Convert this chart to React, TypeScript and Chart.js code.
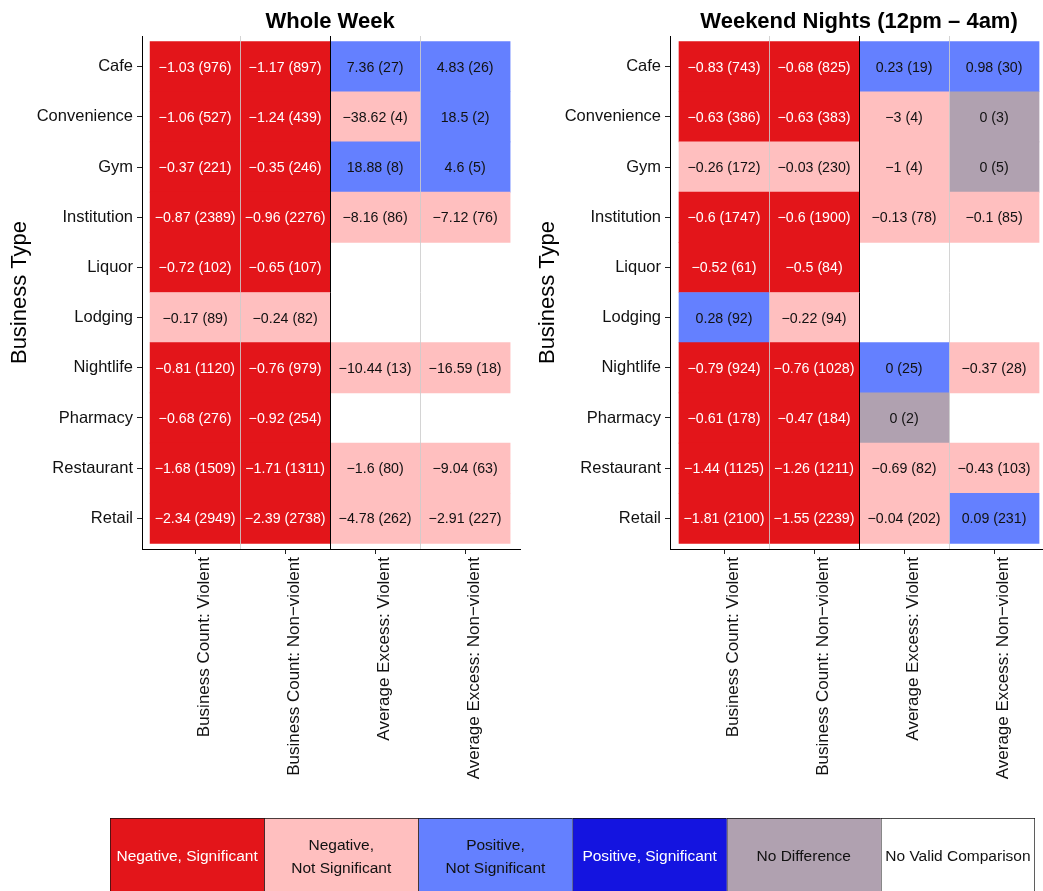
import React, { useEffect, useRef } from "react";
import { Chart, registerables } from "chart.js";

Chart.register(...registerables);

const FONT = "'Liberation Sans', Arial, Helvetica, sans-serif";
Chart.defaults.font.family = FONT;

// ---------- categories / labels ----------
const businessTypes = [
  "Cafe",
  "Convenience",
  "Gym",
  "Institution",
  "Liquor",
  "Lodging",
  "Nightlife",
  "Pharmacy",
  "Restaurant",
  "Retail",
];
const measureLabels = [
  "Business Count: Violent",
  "Business Count: Non\u2212violent",
  "Average Excess: Violent",
  "Average Excess: Non\u2212violent",
];
const panelTitles = ["Whole Week", "Weekend Nights (12pm \u2013 4am)"];
const yAxisTitle = "Business Type";

// category codes: 0 neg sig, 1 neg ns, 2 pos ns, 3 pos sig, 4 no diff, 5 no valid comparison
const legendLabels = [
  ["Negative, Significant"],
  ["Negative,", "Not Significant"],
  ["Positive,", "Not Significant"],
  ["Positive, Significant"],
  ["No Difference"],
  ["No Valid Comparison"],
];
const categoryColors = ["#E3151A", "#FFBFBF", "#6480FF", "#1414E0", "#B0A1B0", "#FFFFFF"];
const categoryTextColors = ["#FFFFFF", "#111111", "#111111", "#FFFFFF", "#111111", "#111111"];

// ---------- Whole week ----------
const wwCountViolentValues = [-1.03, -1.06, -0.37, -0.87, -0.72, -0.17, -0.81, -0.68, -1.68, -2.34];
const wwCountViolentN = [976, 527, 221, 2389, 102, 89, 1120, 276, 1509, 2949];
const wwCountViolentCat = [0, 0, 0, 0, 0, 1, 0, 0, 0, 0];

const wwCountNonViolentValues = [-1.17, -1.24, -0.35, -0.96, -0.65, -0.24, -0.76, -0.92, -1.71, -2.39];
const wwCountNonViolentN = [897, 439, 246, 2276, 107, 82, 979, 254, 1311, 2738];
const wwCountNonViolentCat = [0, 0, 0, 0, 0, 1, 0, 0, 0, 0];

const wwExcessViolentValues = [7.36, -38.62, 18.88, -8.16, null, null, -10.44, null, -1.6, -4.78];
const wwExcessViolentN = [27, 4, 8, 86, null, null, 13, null, 80, 262];
const wwExcessViolentCat = [2, 1, 2, 1, null, null, 1, null, 1, 1];

const wwExcessNonViolentValues = [4.83, 18.5, 4.6, -7.12, null, null, -16.59, null, -9.04, -2.91];
const wwExcessNonViolentN = [26, 2, 5, 76, null, null, 18, null, 63, 227];
const wwExcessNonViolentCat = [2, 2, 2, 1, null, null, 1, null, 1, 1];

// ---------- Weekend nights ----------
const wnCountViolentValues = [-0.83, -0.63, -0.26, -0.6, -0.52, 0.28, -0.79, -0.61, -1.44, -1.81];
const wnCountViolentN = [743, 386, 172, 1747, 61, 92, 924, 178, 1125, 2100];
const wnCountViolentCat = [0, 0, 1, 0, 0, 2, 0, 0, 0, 0];

const wnCountNonViolentValues = [-0.68, -0.63, -0.03, -0.6, -0.5, -0.22, -0.76, -0.47, -1.26, -1.55];
const wnCountNonViolentN = [825, 383, 230, 1900, 84, 94, 1028, 184, 1211, 2239];
const wnCountNonViolentCat = [0, 0, 1, 0, 0, 1, 0, 0, 0, 0];

const wnExcessViolentValues = [0.23, -3, -1, -0.13, null, null, 0, 0, -0.69, -0.04];
const wnExcessViolentN = [19, 4, 4, 78, null, null, 25, 2, 82, 202];
const wnExcessViolentCat = [2, 1, 1, 1, null, null, 2, 4, 1, 1];

const wnExcessNonViolentValues = [0.98, 0, 0, -0.1, null, null, -0.37, null, -0.43, 0.09];
const wnExcessNonViolentN = [30, 3, 5, 85, null, null, 28, null, 103, 231];
const wnExcessNonViolentCat = [2, 4, 4, 1, null, null, 1, null, 1, 2];

type Column = { values: (number | null)[]; counts: (number | null)[]; cats: (number | null)[] };

const wholeWeek: Column[] = [
  { values: wwCountViolentValues, counts: wwCountViolentN, cats: wwCountViolentCat },
  { values: wwCountNonViolentValues, counts: wwCountNonViolentN, cats: wwCountNonViolentCat },
  { values: wwExcessViolentValues, counts: wwExcessViolentN, cats: wwExcessViolentCat },
  { values: wwExcessNonViolentValues, counts: wwExcessNonViolentN, cats: wwExcessNonViolentCat },
];
const weekendNights: Column[] = [
  { values: wnCountViolentValues, counts: wnCountViolentN, cats: wnCountViolentCat },
  { values: wnCountNonViolentValues, counts: wnCountNonViolentN, cats: wnCountNonViolentCat },
  { values: wnExcessViolentValues, counts: wnExcessViolentN, cats: wnExcessViolentCat },
  { values: wnExcessNonViolentValues, counts: wnExcessNonViolentN, cats: wnExcessNonViolentCat },
];

function fmt(v: number, n: number) {
  const s = v < 0 ? "\u2212" + String(-v) : String(v);
  return `${s} (${n})`;
}

type PanelProps = {
  columns: Column[];
  title: string;
  left: number;
  width: number;
  height: number;
  xMin: number;
  xMax: number;
  padRight: number;
};

function HeatPanel({ columns, title, left, width, height, xMin, xMax, padRight }: PanelProps) {
  const ref = useRef<HTMLCanvasElement>(null);
  useEffect(() => {
    if (!ref.current) return;
    const datasets = columns.map((col, j) => ({
      label: measureLabels[j],
      data: businessTypes
        .map((_, i) => i)
        .filter((i) => col.cats[i] != null)
        .map((i) => ({ x: [j, j + 1], y: i })),
      backgroundColor: (ctx: any) => {
        const raw = ctx.raw;
        if (!raw) return "rgba(0,0,0,0)";
        return categoryColors[col.cats[raw.y] as number];
      },
      borderWidth: 0,
      grouped: false,
      barPercentage: 1,
      categoryPercentage: 1,
    }));

    const overlay = {
      id: "overlay",
      afterDatasetsDraw(chart: any) {
        const { ctx, chartArea } = chart;
        const xs = chart.scales.x;
        const ys = chart.scales.y;
        ctx.save();
        // separators
        [1, 3].forEach((v) => {
          const px = Math.round(xs.getPixelForValue(v)) + 0.5;
          ctx.strokeStyle = "rgba(205,205,205,0.85)";
          ctx.lineWidth = 1;
          ctx.beginPath();
          ctx.moveTo(px, chartArea.top);
          ctx.lineTo(px, chartArea.bottom);
          ctx.stroke();
        });
        {
          const px = Math.round(xs.getPixelForValue(2)) + 0.5;
          ctx.strokeStyle = "#000000";
          ctx.lineWidth = 1;
          ctx.beginPath();
          ctx.moveTo(px, chartArea.top);
          ctx.lineTo(px, chartArea.bottom);
          ctx.stroke();
        }
        // cell labels
        ctx.font = `14.2px ${FONT}`;
        ctx.textAlign = "center";
        ctx.textBaseline = "middle";
        columns.forEach((col, j) => {
          businessTypes.forEach((_, i) => {
            const c = col.cats[i];
            if (c == null) return;
            ctx.fillStyle = categoryTextColors[c];
            ctx.fillText(
              fmt(col.values[i] as number, col.counts[i] as number),
              xs.getPixelForValue(j + 0.5),
              ys.getPixelForValue(i) + 1
            );
          });
        });
        // title
        ctx.fillStyle = "#000000";
        ctx.font = `bold 22px ${FONT}`;
        ctx.textAlign = "center";
        ctx.textBaseline = "alphabetic";
        ctx.fillText(title, xs.getPixelForValue(2), 28);
        ctx.restore();
      },
    };

    const chart = new Chart(ref.current, {
      type: "bar",
      data: { datasets: datasets as any },
      options: {
        indexAxis: "y",
        responsive: false,
        animation: false,
        layout: { padding: { top: 36, right: padRight, left: 0, bottom: 0 } },
        plugins: { legend: { display: false }, tooltip: { enabled: false } },
        scales: {
          x: {
            type: "linear",
            offset: false,
            min: xMin,
            max: xMax,
            afterBuildTicks: (s: any) => {
              s.ticks = [0.5, 1.5, 2.5, 3.5].map((v) => ({ value: v }));
            },
            afterFit: (s: any) => {
              s.height = height - 549;
            },
            ticks: {
              autoSkip: false,
              minRotation: 90,
              maxRotation: 90,
              padding: 3,
              labelOffset: 9,
              color: "#111111",
              font: { size: 17 },
              callback: (v: any) => measureLabels[Math.round(Number(v) - 0.5)],
            },
            grid: {
              offset: false,
              drawOnChartArea: false,
              drawTicks: true,
              tickLength: 5,
              tickColor: "#222222",
            },
            border: { display: true, color: "#000000", width: 1 },
          },
          y: {
            type: "linear",
            offset: false,
            reverse: true,
            min: -0.61,
            max: 9.61,
            afterBuildTicks: (s: any) => {
              s.ticks = businessTypes.map((_, i) => ({ value: i }));
            },
            afterFit: (s: any) => {
              s.width = 142;
            },
            ticks: {
              autoSkip: false,
              padding: 4,
              color: "#111111",
              font: { size: 16.5 },
              callback: (v: any) => businessTypes[Math.round(Number(v))],
            },
            grid: {
              offset: false,
              drawOnChartArea: false,
              drawTicks: true,
              tickLength: 5,
              tickColor: "#222222",
            },
            border: { display: true, color: "#000000", width: 1 },
            title: {
              display: true,
              text: yAxisTitle,
              color: "#000000",
              font: { size: 22 },
              padding: { top: 7, bottom: 0 },
            },
          },
        },
      } as any,
      plugins: [overlay],
    });
    return () => chart.destroy();
  }, [columns, title, height, xMin, xMax, padRight]);

  return (
    <canvas
      ref={ref}
      width={width}
      height={height}
      style={{ position: "absolute", left, top: 0, width, height }}
    />
  );
}

function LegendBar() {
  const ref = useRef<HTMLCanvasElement>(null);
  useEffect(() => {
    if (!ref.current) return;
    const textPlugin = {
      id: "legendText",
      afterDatasetsDraw(chart: any) {
        const { ctx, chartArea } = chart;
        const xs = chart.scales.x;
        const cy = (chartArea.top + chartArea.bottom) / 2;
        ctx.save();
        ctx.font = `15.5px ${FONT}`;
        ctx.textAlign = "center";
        ctx.textBaseline = "middle";
        legendLabels.forEach((lines, j) => {
          ctx.fillStyle = categoryTextColors[j];
          const lh = 23;
          const start = cy - ((lines.length - 1) * lh) / 2;
          lines.forEach((line, k) => {
            ctx.fillText(line, xs.getPixelForValue(j + 0.5), start + k * lh);
          });
        });
        ctx.restore();
      },
    };
    const chart = new Chart(ref.current, {
      type: "bar",
      data: {
        labels: [""],
        datasets: legendLabels.map((lab, j) => ({
          label: lab.join(" "),
          data: [[j, j + 1]],
          backgroundColor: categoryColors[j],
          borderColor: "#111111",
          borderWidth: { top: 1, left: 1, bottom: 1, right: j === legendLabels.length - 1 ? 1 : 0 },
          borderSkipped: false,
          grouped: false,
          barPercentage: 1,
          categoryPercentage: 1,
        })) as any,
      },
      options: {
        indexAxis: "y",
        responsive: false,
        animation: false,
        layout: { padding: 0 },
        plugins: { legend: { display: false }, tooltip: { enabled: false } },
        scales: {
          x: { type: "linear", min: 0, max: 6, display: false },
          y: { display: false },
        },
      } as any,
      plugins: [textPlugin],
    });
    return () => chart.destroy();
  }, []);
  return (
    <canvas
      ref={ref}
      width={925}
      height={78}
      style={{ position: "absolute", left: 110, top: 818, width: 925, height: 78 }}
    />
  );
}

export default function App() {
  return (
    <div
      style={{
        position: "absolute",
        left: 0,
        top: 0,
        width: 1043,
        height: 891,
        overflow: "hidden",
        background: "#FFFFFF",
      }}
    >
      <HeatPanel
        columns={wholeWeek}
        title={panelTitles[0]}
        left={0}
        width={522}
        height={800}
        xMin={-0.09}
        xMax={4.11}
        padRight={2}
      />
      <HeatPanel
        columns={weekendNights}
        title={panelTitles[1]}
        left={528}
        width={515}
        height={800}
        xMin={-0.1}
        xMax={4.044}
        padRight={0}
      />
      <LegendBar />
    </div>
  );
}
